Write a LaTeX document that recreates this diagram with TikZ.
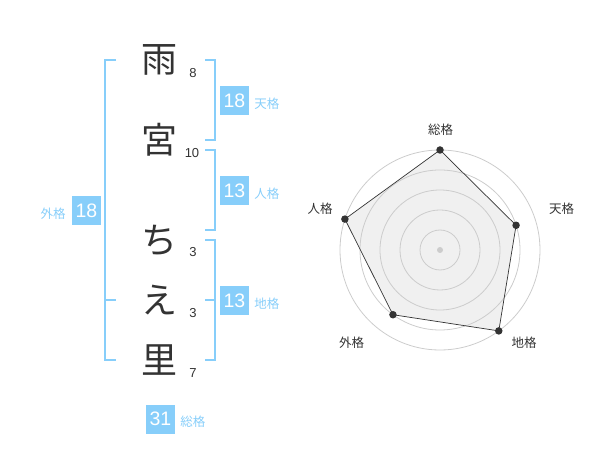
\documentclass[tikz,border=0pt]{standalone}
\usepackage{fontspec}
\setmainfont{Liberation Sans}
\newfontfamily\jp{Noto Sans CJK JP}
\usetikzlibrary{positioning}
\definecolor{kakublue}{RGB}{135,206,250}
\definecolor{ink}{RGB}{51,51,51}

\begin{document}
\begin{tikzpicture}[x=1pt, y=-1pt,
  kanji/.style={font=\jp\fontsize{36}{36}\selectfont, text=ink, inner sep=0},
  strokenum/.style={font=\fontsize{13}{13}\selectfont, text=ink, inner sep=0},
  bracket/.style={kakublue, line width=2pt},
  score/.style={fill=kakublue, text=white, minimum size=29pt, inner sep=0, font=\fontsize{19.5}{19.5}\selectfont},
  kaku/.style={text=kakublue, font=\jp\fontsize{12.5}{12.5}\selectfont, inner sep=0},
  ring/.style={black!20, line width=0.8pt},
  ptdot/.style={circle, fill=ink, inner sep=0, minimum size=7.5pt},
  axislabel/.style={font=\jp\fontsize{12.5}{12.5}\selectfont, text=ink, inner sep=0}]

\useasboundingbox (0,0) rectangle (600,470);

% name, one character per line
\node[kanji] (k1) at (159,60) {雨};
\node[kanji] (k2) at (159,140) {宮};
\node[kanji] (k3) at (159,240) {ち};
\node[kanji] (k4) at (159,300) {え};
\node[kanji] (k5) at (159,360) {里};

\node[strokenum] (s1) at (193,73) {8};
\node[strokenum] (s2) at (192,153) {10};
\node[strokenum] (s3) at (193,252) {3};
\node[strokenum] (s4) at (193,313) {3};
\node[strokenum] (s5) at (193,373) {7};

% brackets
\draw[bracket] (205,60)--(215,60)--(215,140)--(205,140);
\draw[bracket] (205,150)--(215,150)--(215,230)--(205,230);
\draw[bracket] (205,240)--(215,240)--(215,360)--(205,360);
\draw[bracket] (205,300)--(215,300);
\draw[bracket] (116,60)--(105,60)--(105,360)--(116,360);
\draw[bracket] (105,300)--(116,300);

% scores
\node[score] (ten) at (234.5,100.5) {18};
\node[kaku, right=5pt of ten, yshift=-3pt] (tenl) {天格};
\node[score] (jin) at (234.5,190.5) {13};
\node[kaku, right=5pt of jin, yshift=-3pt] (jinl) {人格};
\node[score] (chi) at (234.5,300.5) {13};
\node[kaku, right=5pt of chi, yshift=-3pt] (chil) {地格};
\node[score] (gai) at (86.5,210.5) {18};
\node[kaku, left=6pt of gai, yshift=-3pt] (gail) {外格};
\node[score] (sou) at (160.5,419) {31};
\node[kaku, right=5pt of sou, yshift=-3pt] (soul) {総格};

% radar chart
\begin{scope}[shift={(440,250)}, y=1pt]
\coordinate (c) at (0,0);
\coordinate (p1) at (90:100);
\coordinate (p2) at (18:80);
\coordinate (p3) at (-54:100);
\coordinate (p4) at (-126:80);
\coordinate (p5) at (162:100);
\fill[black!6] (p1)--(p2)--(p3)--(p4)--(p5)--cycle;
\foreach \r in {20,40,...,100}
  \draw[ring] (c) circle (\r);
\draw[ink, line width=0.7pt] (p1)--(p2)--(p3)--(p4)--(p5)--cycle;
\foreach \i in {1,...,5}
  \node[ptdot] (d\i) at (p\i) {};
\fill[black!20] (c) circle (3);
\node[axislabel] (a1) at (0.7,120) {総格};
\node[axislabel] (a2) at (121.7,41.7) {天格};
\node[axislabel] (a3) at (84,-92.3) {地格};
\node[axislabel] (a4) at (-88.3,-92.3) {外格};
\node[axislabel] (a5) at (-120,41.7) {人格};
\end{scope}

\end{tikzpicture}
\end{document}
